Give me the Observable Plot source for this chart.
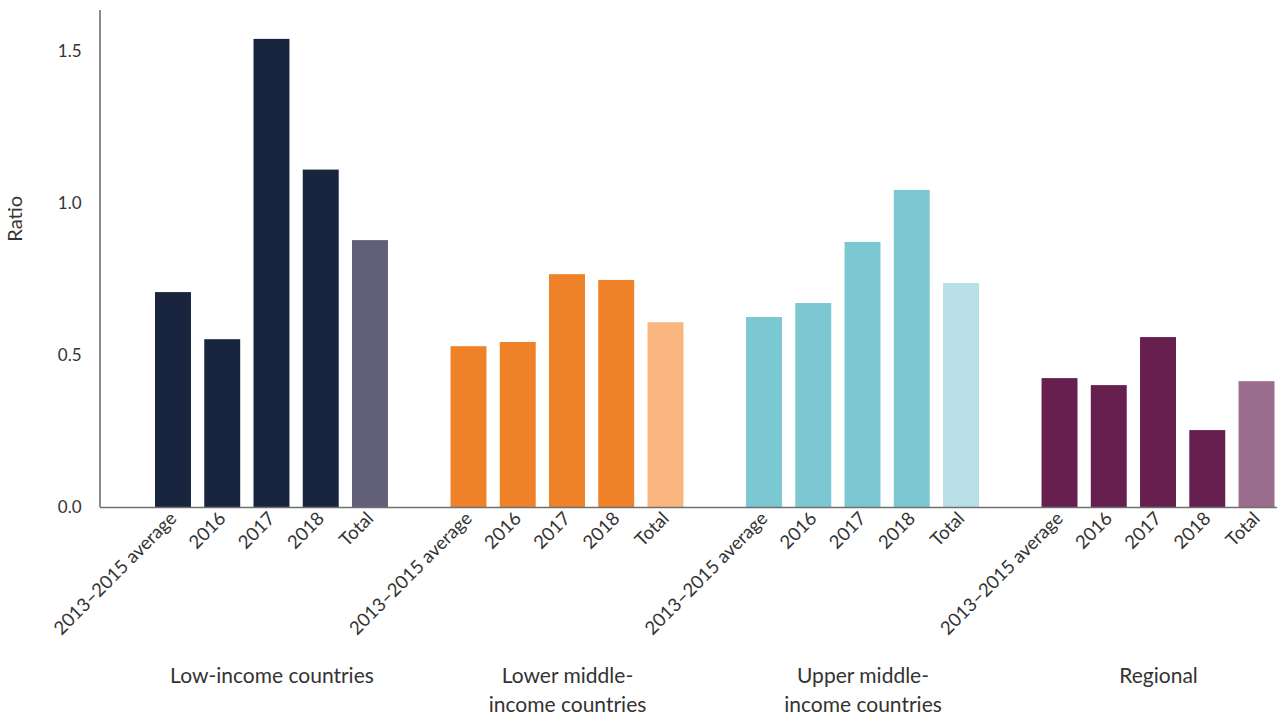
<!DOCTYPE html>
<html>
<head>
<meta charset="utf-8">
<script src="https://cdn.jsdelivr.net/npm/d3@7"></script>
<script src="https://cdn.jsdelivr.net/npm/@observablehq/plot@0.6"></script>
<style>
  html, body { margin: 0; padding: 0; background: #fff; }
  #chart svg { display: block; }
</style>
</head>
<body>
<div id="chart"></div>
<script>
const groups = ["Low-income countries", "Lower middle-\nincome countries", "Upper middle-\nincome countries", "Regional"];
const categories = ["2013–2015 average", "2016", "2017", "2018", "Total"];
const lowIncome = [0.707, 0.552, 1.540, 1.110, 0.878];
const lowerMiddle = [0.529, 0.543, 0.766, 0.747, 0.608];
const upperMiddle = [0.625, 0.671, 0.872, 1.043, 0.737];
const regional = [0.424, 0.401, 0.559, 0.253, 0.414];
const seriesValues = [lowIncome, lowerMiddle, upperMiddle, regional];
const yTicks = [0, 0.5, 1.0, 1.5];

const colorKeys = ["g0", "g0t", "g1", "g1t", "g2", "g2t", "g3", "g3t"];
const colorRange = ["#19253f", "#626078", "#ef8228", "#f9b77f", "#7cc8d2", "#b8dfe5", "#671f50", "#9b6d8e"];

const data = [];
const domain = [];
groups.forEach((g, gi) => {
  categories.forEach((c, ci) => {
    const key = `${gi}|${c}`;
    domain.push(key);
    data.push({key, value: seriesValues[gi][ci], kind: `g${gi}` + (c === "Total" ? "t" : "")});
  });
  if (gi < groups.length - 1) domain.push(`gap${gi}`);
});
const realKeys = domain.filter(k => k.includes("|"));
const groupLabels = groups.map((g, gi) => ({key: `${gi}|2017`, label: g}));

const font = "Lato, 'Open Sans', sans-serif";
const axisColor = "#6f6f6f";

const chart = Plot.plot({
  width: 1277,
  height: 718,
  marginLeft: 100,
  marginRight: 0,
  marginTop: 10,
  marginBottom: 211,
  style: {fontFamily: font, fontSize: "17px", color: "#333", background: "#fff"},
  x: {type: "band", domain, range: [155, 1274.5], paddingInner: 0.27, paddingOuter: 0, round: false, label: null},
  y: {domain: [0, 1.635], label: null},
  color: {domain: colorKeys, range: colorRange},
  marks: [
    Plot.barY(data, {x: "key", y: "value", fill: "kind"}),
    Plot.axisX({ticks: realKeys, tickFormat: d => d.split("|")[1], tickRotate: -45, tickSize: 0, tickPadding: 8, fontSize: 18.5, fill: "#333"}),
    Plot.axisY({ticks: yTicks, tickFormat: d3.format(".1f"), tickSize: 0, tickPadding: 19, fontSize: 17, fill: "#333"}),
    Plot.ruleY([0], {stroke: axisColor, strokeWidth: 1.6}),
    (index, scales, values, dims) => {
      const line = document.createElementNS("http://www.w3.org/2000/svg", "line");
      line.setAttribute("x1", dims.marginLeft);
      line.setAttribute("x2", dims.marginLeft);
      line.setAttribute("y1", dims.marginTop);
      line.setAttribute("y2", dims.height - dims.marginBottom);
      line.setAttribute("stroke", axisColor);
      line.setAttribute("stroke-width", 1.6);
      return line;
    },
    Plot.text(groupLabels, {x: "key", text: "label", frameAnchor: "bottom", dy: 155, lineAnchor: "top", lineHeight: 1.38, fontSize: 21, fill: "#333"}),
    Plot.text(["Ratio"], {y: 0.95, frameAnchor: "left", textAnchor: "middle", dx: -85, rotate: -90, fontSize: 20, fill: "#333"})
  ]
});
document.getElementById("chart").appendChild(chart);
</script>
</body>
</html>
